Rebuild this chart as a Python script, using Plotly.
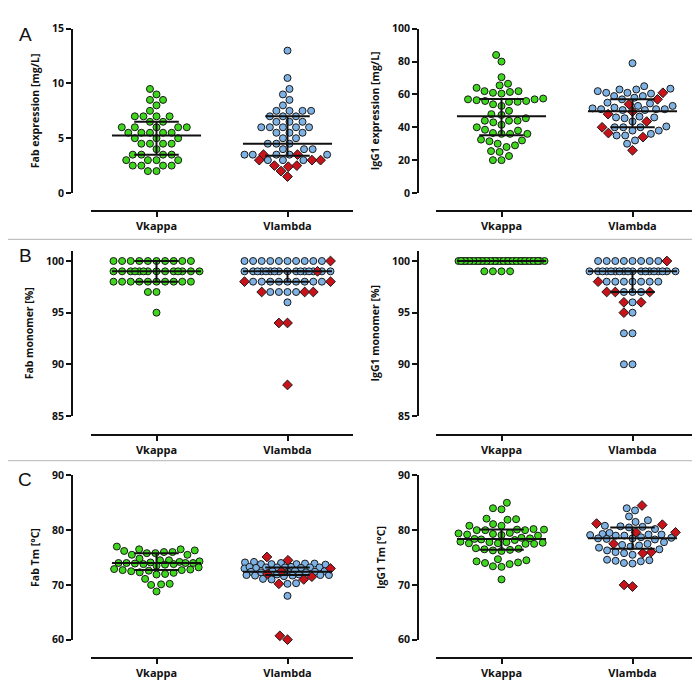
import math
import plotly.graph_objects as go

FIG_W, FIG_H = 700, 685

categories = ["Vkappa", "Vlambda"]

# ---------------- Panel A (left): Fab expression [mg/L] ----------------
fab_expr_kappa = [9.5, 9.0, 8.5, 8.5, 8.0, 7.5, 7.0, 7.0, 7.0, 7.0, 6.5, 6.5,
                  6.0, 6.0, 6.0, 6.0, 6.0, 5.5, 5.5, 5.5, 5.5, 5.5, 5.0, 5.0,
                  5.0, 4.5, 4.5, 4.5, 4.5, 4.0, 3.5, 3.5, 3.5, 3.5, 3.0, 3.0,
                  3.0, 3.0, 2.5, 2.5, 2.5, 2.5, 2.0, 2.0]
fab_expr_lambda = [13.0, 10.5, 9.5, 9.0, 8.5, 8.0, 7.5, 7.5, 7.5, 7.5, 7.0, 7.0,
                   7.0, 6.5, 6.5, 6.5, 6.0, 6.0, 6.0, 6.0, 6.0, 5.5, 5.5, 5.5,
                   5.0, 5.0, 4.5, 4.5, 4.5, 4.0, 4.0, 4.0, 3.5, 3.5, 3.5, 3.5,
                   3.5, 3.0, 3.0, 3.0]
fab_expr_lambda_red = [3.5, 3.5, 3.0, 3.0, 3.0, 2.5, 2.5, 2.4, 2.0, 1.5]
fab_expr_median = [5.25, 4.5]
fab_expr_q1 = [3.5, 3.4]
fab_expr_q3 = [6.5, 7.0]

# ---------------- Panel A (right): IgG1 expression [mg/L] ----------------
igg_expr_kappa = [84, 80, 70.5, 66.5, 65.5, 64, 62, 62, 61.5, 61, 60.5, 57.5,
                  57, 57, 56.5, 56, 56, 55.5, 55.5, 54, 53, 50, 48, 47.5, 45.5,
                  44, 44, 43, 44, 41.5, 40, 38.5, 38, 36, 36.5, 36, 36, 32.5,
                  31.5, 32, 30, 29, 28, 25.5, 25, 22.5, 20, 20]
igg_expr_lambda = [79, 65, 63.5, 63, 63, 62, 61, 61, 60.5, 59, 59, 58, 57, 55,
                   54.5, 53, 53, 52, 51.5, 51, 51, 50.5, 51, 50.5, 46.5, 46, 46,
                   45.5, 43.5, 40.5, 40, 40, 40, 38, 38, 36, 35, 35, 32, 30]
igg_expr_lambda_red = [61, 57, 54, 49.5, 48, 43.5, 40, 36.5, 34, 26]
igg_expr_median = [46.7, 49.8]
igg_expr_q1 = [35.2, 40.0]
igg_expr_q3 = [57.2, 57.0]

# ---------------- Panel B (left): Fab monomer [%] ----------------
fab_mono_kappa = [100, 100, 100, 100, 100, 100, 100, 100, 100, 100,
                  99, 99, 99, 99, 99, 99, 99, 99, 99, 99, 99, 99, 99, 99,
                  98, 98, 98, 98, 98, 98, 98, 98, 98, 98, 97, 97, 95]
fab_mono_lambda = [100, 100, 100, 100, 100, 100, 100, 100, 100, 100,
                   99, 99, 99, 99, 99, 99, 99, 99, 99, 99, 99, 99, 99, 99, 99, 99,
                   98, 98, 98, 98, 98, 98, 98, 98, 98, 97, 97, 97, 97, 96]
fab_mono_lambda_red = [100, 99, 98, 98, 97, 97, 97, 94, 94, 88]
fab_mono_median = [99, 99]
fab_mono_q1 = [98, 98]
fab_mono_q3 = [100, 99]

# ---------------- Panel B (right): IgG1 monomer [%] ----------------
igg_mono_kappa = [100, 100, 100, 100, 100, 100, 100, 100, 100, 100,
                  100, 100, 100, 100, 100, 100, 100, 100, 100, 100,
                  100, 100, 100, 100, 100, 100, 100, 100, 100, 100,
                  100, 100, 100, 100, 100, 100, 100, 100, 100, 100,
                  99, 99, 99, 99]
igg_mono_lambda = [100, 100, 100, 100, 100, 100, 100, 100,
                   99, 99, 99, 99, 99, 99, 99, 99, 99, 99, 99, 99, 99, 99, 99,
                   99, 99, 99, 98, 98, 98, 98, 98, 98, 98, 97, 97, 97, 96, 95,
                   93, 93, 90, 90]
igg_mono_lambda_red = [100, 98, 97, 97, 97, 96, 96, 95]
igg_mono_median = [100, 99]
igg_mono_q1 = [100, 97]
igg_mono_q3 = [100, 99]

# ---------------- Panel C (left): Fab Tm [°C] ----------------
fab_tm_kappa = [77.0, 76.5, 76.5, 76.3, 76.2, 76.0, 76.0, 75.8, 75.8, 75.5, 75.5,
                74.8, 74.5, 74.5, 74.3, 74.0, 73.9, 74.1, 73.8, 74.2, 74.0, 73.7,
                74.0, 73.8, 74.0, 73.5, 73.2, 72.8, 72.6, 72.7, 72.9, 72.5, 72.7,
                72.0, 72.2, 71.9, 72.3, 71.1, 70.2, 70.1, 70.0, 68.8]
fab_tm_lambda = [74.2, 74.0, 73.9, 73.8, 73.8, 73.8, 73.7, 73.9, 74.1,
                 73.3, 73.1, 73.2, 73.2, 73.1, 73.2, 73.0, 73.2, 73.3, 73.2,
                 72.5, 72.4, 72.3, 72.4, 72.6, 72.4, 72.3, 72.5,
                 71.8, 71.7, 71.9, 71.8, 71.6, 71.8, 71.7, 71.9,
                 71.0, 71.1, 70.3, 70.2, 68.0]
fab_tm_lambda_red = [75.1, 74.5, 73.0, 72.5, 72.0, 71.5, 71.0, 70.2, 60.7, 60.0]
fab_tm_median = [74.0, 72.4]
fab_tm_q1 = [72.7, 71.8]
fab_tm_q3 = [75.8, 73.2]

# ---------------- Panel C (right): IgG1 Tm [°C] ----------------
igg_tm_kappa = [85.0, 84.0, 83.8, 82.1, 82.0, 81.9, 81.1, 80.8, 80.8,
                80.1, 80.0, 80.0, 80.1, 80.0, 80.2, 79.4, 79.3, 79.1, 79.2, 79.0,
                79.5, 78.5, 78.3, 78.4, 78.6, 78.2, 77.8, 77.6, 77.5, 77.7, 77.9,
                77.5, 77.6, 77.8, 76.6, 76.3, 76.5, 76.4, 76.2, 76.7, 74.7, 74.3,
                74.0, 73.4, 73.3, 73.8, 74.1, 74.5, 71.0]
igg_tm_lambda = [84.0, 83.6, 82.5, 81.8, 81.5, 80.8, 80.6, 80.7, 80.5, 80.2,
                 79.5, 79.2, 79.0, 79.3, 79.1, 79.2, 79.0, 78.5, 78.6, 78.4,
                 78.5, 78.7, 78.3, 77.8, 77.5, 77.3, 77.0, 77.2, 76.8, 76.5,
                 76.3, 76.0, 75.5, 75.8, 74.6, 74.5, 74.3, 74.0, 73.9, 74.4]
igg_tm_lambda_red = [84.5, 81.2, 81.0, 79.6, 79.6, 77.5, 76.0, 75.8, 70.0, 69.7]
igg_tm_median = [78.4, 78.5]
igg_tm_q1 = [76.4, 76.6]
igg_tm_q3 = [80.1, 80.5]

# ---------------- layout geometry (pixels) ----------------
COLS = [dict(xdom=(83, 345), yline=64), dict(xdom=(428, 690), yline=410)]
ROWS = [dict(ydom=(14, 181.7), xline=200), dict(ydom=(240.6, 409.3), xline=428.3),
        dict(ydom=(470, 637.7), xline=656)]
XRANGE = [-0.5, 1.5]

GREEN = "#3fd61e"
BLUE = "#7fb2e4"
RED = "#c8131b"
EDGE = "#1a1a1a"
INK = "#111111"
FONT = "'Open Sans', Lato, sans-serif"

panels = [
    dict(r=0, c=0, title="Fab expression [mg/L]", yrange=[0, 15], ticks=[0, 5, 10, 15],
         kappa=fab_expr_kappa, lam=fab_expr_lambda, red=fab_expr_lambda_red,
         med=fab_expr_median, q1=fab_expr_q1, q3=fab_expr_q3),
    dict(r=0, c=1, title="IgG1 expression [mg/L]", yrange=[0, 100], ticks=[0, 20, 40, 60, 80, 100],
         kappa=igg_expr_kappa, lam=igg_expr_lambda, red=igg_expr_lambda_red,
         med=igg_expr_median, q1=igg_expr_q1, q3=igg_expr_q3),
    dict(r=1, c=0, title="Fab monomer [%]", yrange=[85, 101], ticks=[85, 90, 95, 100],
         kappa=fab_mono_kappa, lam=fab_mono_lambda, red=fab_mono_lambda_red,
         med=fab_mono_median, q1=fab_mono_q1, q3=fab_mono_q3),
    dict(r=1, c=1, title="IgG1 monomer [%]", yrange=[85, 101], ticks=[85, 90, 95, 100],
         kappa=igg_mono_kappa, lam=igg_mono_lambda, red=igg_mono_lambda_red,
         med=igg_mono_median, q1=igg_mono_q1, q3=igg_mono_q3),
    dict(r=2, c=0, title="Fab Tm [°C]", yrange=[60, 90], ticks=[60, 70, 80, 90],
         kappa=fab_tm_kappa, lam=fab_tm_lambda, red=fab_tm_lambda_red,
         med=fab_tm_median, q1=fab_tm_q1, q3=fab_tm_q3),
    dict(r=2, c=1, title="IgG1 Tm [°C]", yrange=[60, 90], ticks=[60, 70, 80, 90],
         kappa=igg_tm_kappa, lam=igg_tm_lambda, red=igg_tm_lambda_red,
         med=igg_tm_median, q1=igg_tm_q1, q3=igg_tm_q3),
]


def swarm(values, ppu_y, ppu_x, d=8.6, wmax=43.0):
    """Beeswarm offsets (in x data units) computed from the values and axis scales."""
    n = len(values)
    order = sorted(range(n), key=lambda i: values[i])
    placed = []
    offs = [0.0] * n
    for i in order:
        y = values[i] * ppu_y
        near = [(px, py) for px, py in placed if abs(py - y) < d]
        cands = [0.0]
        for px, py in near:
            dx = math.sqrt(max(d * d - (py - y) ** 2, 0))
            cands += [px + dx, px - dx]
        cands = sorted(set(round(cc, 5) for cc in cands), key=lambda cc: (abs(cc), cc))
        chosen = None
        for cc in cands:
            if abs(cc) > wmax + 1e-6:
                continue
            if all((cc - px) ** 2 + (y - py) ** 2 >= d * d - 1e-4 for px, py in near):
                chosen = cc
                break
        if chosen is None:
            best, bestv = 0.0, -1.0
            steps = 173
            for k in range(steps):
                cc = -wmax + 2 * wmax * k / (steps - 1)
                m = min((cc - px) ** 2 + (y - py) ** 2 for px, py in near)
                if m > bestv + 1e-6 or (abs(m - bestv) <= 1e-6 and abs(cc) < abs(best)):
                    best, bestv = cc, m
            chosen = best
        placed.append((chosen, y))
        offs[i] = chosen / ppu_x
    return offs


fig = go.Figure()
layout = dict(width=FIG_W, height=FIG_H, margin=dict(l=0, r=0, t=0, b=0, pad=0),
              paper_bgcolor="white", plot_bgcolor="rgba(0,0,0,0)", showlegend=False,
              font=dict(family=FONT, color=INK))

for k, p in enumerate(panels):
    idx = "" if k == 0 else str(k + 1)
    col, row = COLS[p["c"]], ROWS[p["r"]]
    x0, x1 = col["xdom"]
    ytop, ybot = row["ydom"]
    ppu_x = (x1 - x0) / (XRANGE[1] - XRANGE[0])
    ppu_y = (ybot - ytop) / (p["yrange"][1] - p["yrange"][0])

    layout["xaxis" + idx] = dict(
        domain=[x0 / FIG_W, x1 / FIG_W], range=XRANGE, anchor="free",
        position=1 - row["xline"] / FIG_H, showline=True, linewidth=2, linecolor=INK,
        ticks="outside", ticklen=5, tickwidth=2, tickcolor=INK, tickvals=[0, 1],
        ticktext=categories, showgrid=False, zeroline=False, fixedrange=True,
        tickfont=dict(size=11, family=FONT, color=INK, weight=700))
    layout["yaxis" + idx] = dict(
        domain=[1 - ybot / FIG_H, 1 - ytop / FIG_H], range=p["yrange"], anchor="free",
        position=col["yline"] / FIG_W, showline=True, linewidth=2, linecolor=INK,
        ticks="outside", ticklen=5, tickwidth=2, tickcolor=INK, tickvals=p["ticks"],
        showgrid=False, zeroline=False, fixedrange=True,
        tickfont=dict(size=10.5, family=FONT, color=INK, weight=700),
        title=dict(text=p["title"], standoff=9,
                   font=dict(size=10.5, family=FONT, color=INK, weight=700)))
    xa, ya = "x" + idx, "y" + idx

    # Vkappa (green circles)
    offk = swarm(p["kappa"], ppu_y, ppu_x)
    fig.add_trace(go.Scatter(
        x=[0 + o for o in offk], y=p["kappa"], mode="markers", xaxis=xa, yaxis=ya,
        cliponaxis=False, hoverinfo="skip",
        marker=dict(symbol="circle", size=7, color=GREEN, line=dict(color=EDGE, width=1))))

    # Vlambda (blue circles + red diamonds share one swarm)
    allv = list(p["lam"]) + list(p["red"])
    offl = swarm(allv, ppu_y, ppu_x)
    nb = len(p["lam"])
    fig.add_trace(go.Scatter(
        x=[1 + o for o in offl[:nb]], y=p["lam"], mode="markers", xaxis=xa, yaxis=ya,
        cliponaxis=False, hoverinfo="skip",
        marker=dict(symbol="circle", size=7, color=BLUE, line=dict(color=EDGE, width=1))))
    fig.add_trace(go.Scatter(
        x=[1 + o for o in offl[nb:]], y=p["red"], mode="markers", xaxis=xa, yaxis=ya,
        cliponaxis=False, hoverinfo="skip",
        marker=dict(symbol="diamond", size=7.5, color=RED, line=dict(color=EDGE, width=1))))

    # median with interquartile range
    lx, ly = [], []
    for ci in range(2):
        m, a, b = p["med"][ci], p["q1"][ci], p["q3"][ci]
        lx += [ci - 0.34, ci + 0.34, None, ci - 0.17, ci + 0.17, None,
               ci - 0.17, ci + 0.17, None, ci, ci, None]
        ly += [m, m, None, a, a, None, b, b, None, a, b, None]
    fig.add_trace(go.Scatter(x=lx, y=ly, mode="lines", xaxis=xa, yaxis=ya,
                             cliponaxis=False, hoverinfo="skip",
                             line=dict(color=INK, width=2)))

shapes = []
for yy in (229, 455):
    shapes.append(dict(type="line", xref="paper", yref="paper", x0=0, x1=1,
                       y0=1 - yy / FIG_H, y1=1 - yy / FIG_H,
                       line=dict(color="#b4b4b4", width=1)))
layout["shapes"] = shapes

annotations = []
for letter, (px, py) in zip(["A", "B", "C"], [(17, 20), (17, 246), (17, 474)]):
    annotations.append(dict(text=letter, x=px / FIG_W, y=1 - py / FIG_H, xref="paper",
                            yref="paper", xanchor="center", yanchor="middle",
                            showarrow=False,
                            font=dict(size=19, family="Liberation Sans, Arial, sans-serif",
                                      color=INK)))
layout["annotations"] = annotations

fig.update_layout(**layout)
fig.write_html("out.html")
